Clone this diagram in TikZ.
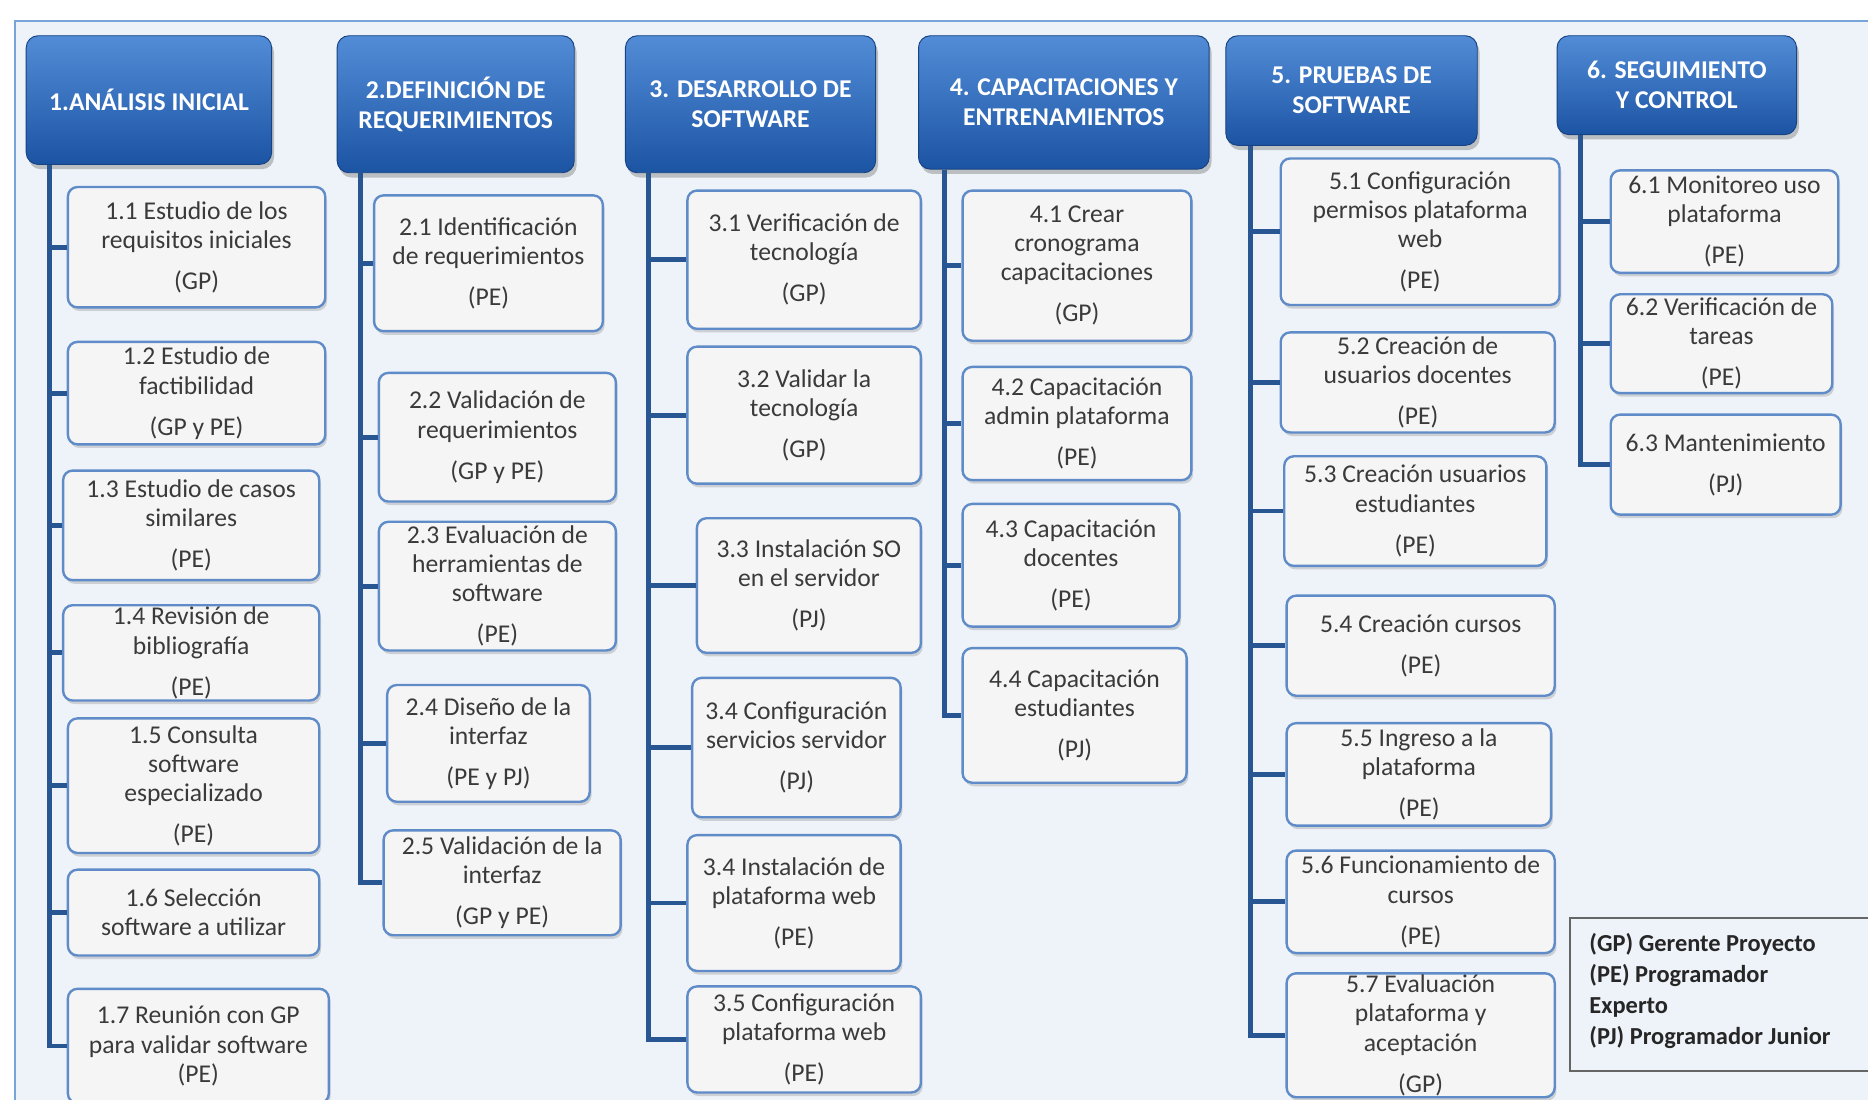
\documentclass[tikz,border=0pt]{standalone}
\usepackage{fontspec}
\setmainfont{Carlito}
\usetikzlibrary{shadows}
\definecolor{bgc}{RGB}{238,243,249}
\definecolor{framec}{RGB}{120,165,215}
\definecolor{htop}{RGB}{82,140,214}
\definecolor{hbot}{RGB}{28,84,164}
\definecolor{boxline}{RGB}{95,140,200}
\definecolor{boxfill}{RGB}{245,245,245}
\definecolor{boxtext}{RGB}{58,58,58}
\definecolor{trunkc}{RGB}{40,86,146}
\tikzset{
  wbox/.style={draw=boxline, line width=2pt, fill=boxfill, rounded corners=8pt,
    inner sep=0pt, drop shadow={shadow xshift=1.5pt, shadow yshift=-3pt, opacity=0.3}},
  wtxt/.style={align=center, inner sep=0pt, text=boxtext, font=\fontsize{21.5}{24.5}\selectfont},
  hbox/.style={rounded corners=10pt, inner sep=0pt, top color=htop, bottom color=hbot,
    draw=hbot!80!black, line width=0.8pt,
    drop shadow={shadow xshift=2pt, shadow yshift=-4pt, opacity=0.45}},
  htxt/.style={align=center, inner sep=0pt, text=white, font=\bfseries\fontsize{21.5}{25}\selectfont},
  trunk/.style={draw=trunkc, line width=4pt},
}
\newcommand\wb[6]{%
  \node[wbox, minimum width={#4-#2}, minimum height={#5-#3}] (#1) at ({(#2+#4)/2},{(#3+#5)/2}) {};
  \node[wtxt] (#1t) at (#1) {#6};}
\newcommand\hd[6]{%
  \node[hbox, minimum width={#4-#2}, minimum height={#5-#3}] (#1) at ({(#2+#4)/2},{(#3+#5)/2}) {};
  \node[htxt] (#1t) at (#1) {#6};}
\newcommand\gp{\\[10pt]}
\begin{document}
\begin{tikzpicture}[x=1pt,y=-1pt]
\useasboundingbox (0,0) rectangle (1568,923);
\fill[white] (0,0) rectangle (1568,923);
\node[draw=framec, line width=1.5pt, fill=bgc, minimum width=1600pt, minimum height=950pt, anchor=north west, inner sep=0pt] (frame) at (12,17) {};

% headers
\hd{h1}{22}{30}{228}{138}{1.ANÁLISIS INICIAL}
\hd{h2}{283}{30}{482}{145}{2.DEFINICIÓN DE\\REQUERIMIENTOS}
\hd{h3}{525}{30}{735}{145}{3. DESARROLLO DE\\SOFTWARE}
\hd{h4}{771}{30}{1015}{142}{4. CAPACITACIONES Y\\ENTRENAMIENTOS}
\hd{h5}{1029}{30}{1240}{122}{5. PRUEBAS DE\\SOFTWARE}
\hd{h6}{1307}{30}{1508}{113}{6. SEGUIMIENTO\\Y CONTROL}

% column 1
\wb{n11}{57}{157}{273}{258}{1.1 Estudio de los\\requisitos iniciales\gp(GP)}
\wb{n12}{57}{287}{273}{373}{1.2 Estudio de\\factibilidad\gp(GP y PE)}
\wb{n13}{53}{395}{268}{487}{1.3 Estudio de casos\\similares\gp(PE)}
\wb{n14}{53}{508}{268}{588}{1.4 Revisión de\\bibliografía\gp(PE)}
\wb{n15}{57}{603}{268}{716}{1.5 Consulta\\software\\especializado\gp(PE)}
\wb{n16}{57}{730}{268}{802}{1.6 Selección\\software a utilizar}
\wb{n17}{57}{830}{276}{926}{1.7 Reunión con GP\\para validar software\\(PE)}

% column 2
\wb{n21}{314}{164}{506}{278}{2.1 Identificación\\de requerimientos\gp(PE)}
\wb{n22}{318}{313}{517}{421}{2.2 Validación de\\requerimientos\gp(GP y PE)}
\wb{n23}{318}{438}{517}{546}{2.3 Evaluación de\\herramientas de\\software\gp(PE)}
\wb{n24}{325}{575}{495}{673}{2.4 Diseño de la\\interfaz\gp(PE y PJ)}
\wb{n25}{322}{697}{521}{785}{2.5 Validación de la\\interfaz\gp(GP y PE)}

% column 3
\wb{n31}{577}{160}{773}{276}{3.1 Verificación de\\tecnología\gp(GP)}
\wb{n32}{577}{291}{773}{406}{3.2 Validar la\\tecnología\gp(GP)}
\wb{n33}{585}{435}{773}{548}{3.3 Instalación SO\\en el servidor\gp(PJ)}
\wb{n34}{581}{569}{756}{686}{3.4 Configuración\\servicios servidor\gp(PJ)}
\wb{n34b}{577}{701}{756}{815}{3.4 Instalación de\\plataforma web\gp(PE)}
\wb{n35}{577}{828}{773}{917}{3.5 Configuración\\plataforma web\gp(PE)}

% column 4
\wb{n41}{808}{160}{1000}{286}{4.1 Crear\\cronograma\\capacitaciones\gp(GP)}
\wb{n42}{808}{308}{1000}{403}{4.2 Capacitación\\admin plataforma\gp(PE)}
\wb{n43}{808}{423}{990}{526}{4.3 Capacitación\\docentes\gp(PE)}
\wb{n44}{808}{544}{996}{657}{4.4 Capacitación\\estudiantes\gp(PJ)}

% column 5
\wb{n51}{1075}{133}{1309}{256}{5.1 Configuración\\permisos plataforma\\web\gp(PE)}
\wb{n52}{1075}{279}{1305}{363}{5.2 Creación de\\usuarios docentes\gp(PE)}
\wb{n53}{1078}{383}{1298}{475}{5.3 Creación usuarios\\estudiantes\gp(PE)}
\wb{n54}{1080}{500}{1305}{584}{5.4 Creación cursos\gp(PE)}
\wb{n55}{1080}{607}{1302}{693}{5.5 Ingreso a la\\plataforma\gp(PE)}
\wb{n56}{1080}{714}{1305}{800}{5.6 Funcionamiento de\\cursos\gp(PE)}
\wb{n57}{1080}{817}{1305}{921}{5.7 Evaluación\\plataforma y\\aceptación\gp(GP)}

% column 6
\wb{n61}{1352}{143}{1543}{229}{6.1 Monitoreo uso\\plataforma\gp(PE)}
\wb{n62}{1352}{247}{1538}{330}{6.2 Verificación de\\tareas\gp(PE)}
\wb{n63}{1352}{348}{1545}{432}{6.3 Mantenimiento\gp(PJ)}

% connectors
\foreach \k in {1,...,7} \draw[trunk] ([xshift=20pt]h1.south west) |- (n1\k.west);
\foreach \k in {1,...,5} \draw[trunk] ([xshift=20pt]h2.south west) |- (n2\k.west);
\foreach \k in {31,32,33,34,34b,35} \draw[trunk] ([xshift=20pt]h3.south west) |- (n\k.west);
\foreach \k in {1,...,4} \draw[trunk] ([xshift=22pt]h4.south west) |- (n4\k.west);
\foreach \k in {1,...,7} \draw[trunk] ([xshift=21pt]h5.south west) |- (n5\k.west);
\foreach \k in {1,...,3} \draw[trunk] ([xshift=20pt]h6.south west) |- (n6\k.west);

% legend
\node[draw=black!60, line width=1.5pt, fill=bgc, minimum width=280pt, minimum height=128pt, anchor=north west, inner sep=0pt] (leg) at (1317,770) {};
\node[anchor=north west, align=left, inner sep=0pt, text=black!85, font=\bfseries\fontsize{20.5}{26}\selectfont] (legt) at (1334,783)
  {(GP) Gerente Proyecto\\(PE) Programador\\Experto\\(PJ) Programador Junior};
\end{tikzpicture}
\end{document}
